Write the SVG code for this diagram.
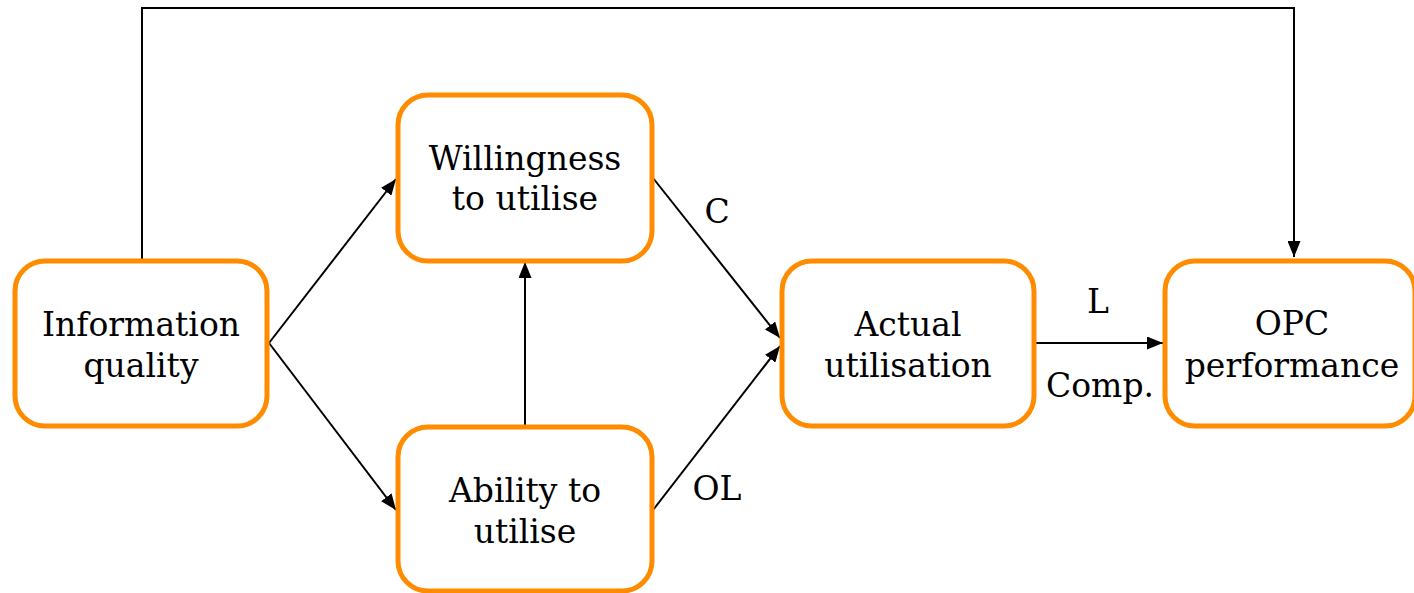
<svg xmlns="http://www.w3.org/2000/svg" width="1414" height="593" viewBox="0 0 1414 593">
<defs>
<marker id="ah" viewBox="0 0 16 13" refX="16" refY="6.5" markerWidth="16" markerHeight="13" markerUnits="userSpaceOnUse" orient="auto">
<path d="M0,0 L16,6.5 L0,13 Z" fill="#000"/>
</marker>
<style>
.box{fill:#fff;stroke:#FF8C00;stroke-width:5}
.t{font-family:"DejaVu Serif","Liberation Serif",serif;font-size:33px;fill:#000;text-anchor:middle}
.c{fill:none;stroke:#000;stroke-width:2}
.a{marker-end:url(#ah)}
</style>
</defs>
<g id="connectors">
<path class="c a" d="M142,259 V8 H1294 V257"/>
<line class="c a" x1="269" y1="343" x2="396" y2="179"/>
<line class="c a" x1="269" y1="343" x2="396" y2="510"/>
<line class="c a" x1="525" y1="426" x2="525" y2="262"/>
<line class="c a" x1="653" y1="178" x2="780" y2="338"/>
<line class="c a" x1="653" y1="510" x2="780" y2="346"/>
<line class="c a" x1="1036" y1="343" x2="1163" y2="343"/>
<text class="t" x="717" y="223">C</text>
<text class="t" x="717" y="500">OL</text>
<text class="t" x="1098" y="313">L</text>
<text class="t" x="1100" y="397">Comp.</text>
</g>
<g id="information-quality">
<rect class="box" x="15" y="261" width="252" height="165" rx="30"/>
<text class="t" x="141" y="336">Information</text>
<text class="t" x="141" y="377">quality</text>
</g>
<g id="willingness">
<rect class="box" x="398" y="95" width="254" height="166" rx="30"/>
<text class="t" x="525" y="170">Willingness</text>
<text class="t" x="525" y="210">to utilise</text>
</g>
<g id="ability">
<rect class="box" x="398" y="427" width="254" height="164" rx="30"/>
<text class="t" x="525" y="502">Ability to</text>
<text class="t" x="525" y="543">utilise</text>
</g>
<g id="actual-utilisation">
<rect class="box" x="782" y="261" width="252" height="165" rx="30"/>
<text class="t" x="908" y="336">Actual</text>
<text class="t" x="908" y="377">utilisation</text>
</g>
<g id="opc-performance">
<rect class="box" x="1165" y="261" width="250" height="165" rx="30"/>
<text class="t" x="1292" y="335">OPC</text>
<text class="t" x="1292" y="377">performance</text>
</g>
</svg>
